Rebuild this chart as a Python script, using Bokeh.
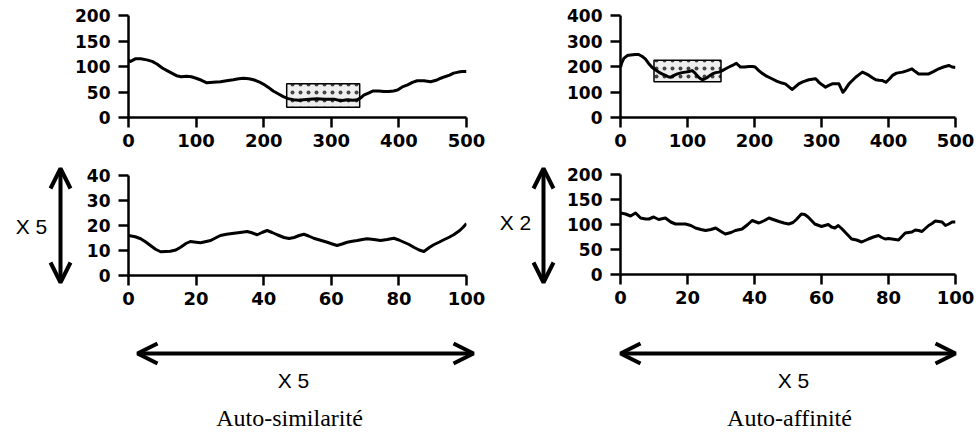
from bokeh.plotting import figure
from bokeh.layouts import row, column
from bokeh.models import Range1d, FixedTicker, Arrow, OpenHead, Label
from bokeh.embed import file_html
from bokeh.resources import INLINE

# ---------------- data ----------------
tl_x = [0, 3, 10, 18, 27, 35, 42, 50, 57, 64, 71, 78, 86, 93, 100, 108, 116, 125, 136, 145,
        155, 163, 170, 178, 185, 193, 200, 207, 214, 222, 229, 236, 244, 252, 259, 268, 279,
        290, 304, 314, 323, 332, 339, 344, 348, 355, 362, 370, 378, 385, 392, 398, 405, 413,
        420, 427, 437, 447, 455, 462, 468, 475, 481, 488, 494, 500]
tl_y = [112, 110, 115, 115, 113, 110, 105, 97, 92, 87, 82, 80, 81, 80, 77, 73, 68, 69, 70, 72,
        74, 76, 77, 76, 74, 70, 65, 59, 52, 46, 41, 37, 35, 34, 35, 36, 37,
        36, 36, 33, 35, 34, 35, 39, 44, 48, 52, 52, 51, 51, 52, 54, 60, 64,
        69, 72, 72, 70, 73, 77, 80, 83, 87, 89, 90, 90]
tl_box = [234, 342, 20, 66]  # left, right, bottom, top

tr_x = [0, 2, 5, 10, 15, 22, 27, 32, 37, 42, 47, 52, 57, 62, 67, 71, 75, 80, 85, 92, 97, 102,
        107, 111, 114, 118, 122, 126, 129, 133, 137, 142, 147, 152, 157, 162, 167, 171, 173,
        176, 179, 185, 192, 197, 201, 206, 211, 218, 226, 233, 241, 246, 251, 256, 260, 266,
        272, 281, 286, 291, 294, 296, 301, 306, 311, 316, 321, 326, 329, 332, 336, 341, 346,
        351, 356, 361, 366, 371, 376, 381, 386, 391, 394, 396, 401, 406, 412, 421, 428, 435,
        440, 445, 452, 460, 467, 475, 482, 490, 495, 500]
tr_y = [197, 215, 232, 243, 245, 247, 247, 240, 230, 212, 197, 187, 178, 171, 165, 160, 158,
        165, 171, 176, 178, 180, 184, 175, 165, 155, 148, 152, 156, 164, 171, 176, 178, 184,
        191, 198, 204, 210, 213, 205, 198, 198, 200, 200, 198, 185, 174, 162, 152, 143, 135,
        132, 121, 110, 118, 132, 140, 148, 150, 152, 145, 138, 128, 119, 126, 132, 132, 132,
        115, 99, 112, 132, 145, 158, 168, 178, 172, 165, 156, 148, 146, 145, 141, 138, 150,
        165, 174, 178, 184, 191, 180, 171, 171, 171, 180, 191, 198, 204, 198, 196]
tr_box = [50, 150, 140, 225]

bl_x = [0, 2, 3.6, 5, 6.5, 8, 9.5, 11, 12.4, 14, 15.4, 17, 18.3, 20, 21.3, 23, 24.3, 26, 27.2,
        29, 31.2, 33, 35.1, 36.5, 38.1, 39.5, 41, 42.5, 44, 46, 47.5, 49, 50.5, 51.9, 53.3,
        54.8, 56.8, 58.8, 60.3, 61.7, 63.2, 64.7, 66.2, 67.7, 69.2, 70.6, 72.6, 74.6, 76.5,
        78.5, 80, 81.5, 83, 84.4, 86, 87.4, 89, 90.3, 92, 93.3, 95, 96.2, 98, 99, 100]
bl_y = [16, 15.5, 14.7, 13.5, 12, 10.5, 9.5, 9.6, 9.7, 10.2, 11.3, 12.8, 13.6, 13.3, 13.1,
        13.6, 14, 15.2, 16, 16.5, 16.9, 17.2, 17.6, 17.1, 16.3, 17.2, 18, 17.2, 16.3, 15.2,
        14.8, 15.2, 16, 16.5, 15.8, 14.9, 14.1, 13.3, 12.6, 12, 12.6, 13.3, 13.7, 14, 14.4,
        14.7, 14.4, 14, 14.4, 14.9, 14.2, 13.3, 12.4, 11.3, 10.2, 9.6, 11.2, 12.3, 13.4, 14.3,
        15.4, 16.3, 18, 19.3, 20.8]

br_x = [0, 1.5, 3, 4.5, 6, 7.5, 8.5, 9.9, 11.4, 13.4, 15, 16.4, 18, 19.4, 21, 22.4, 24, 25.4,
        27, 28.4, 30, 31.3, 33, 34.3, 36.3, 38, 39.3, 41.3, 43, 44.3, 46, 47.3, 48.8, 50.2,
        51.5, 52.5, 54, 55, 56, 57, 58, 60, 62, 63, 64, 65, 66, 67, 68, 69, 70.5, 72, 73, 74,
        75.5, 77, 78, 79, 80, 81, 83, 84, 85, 86, 87, 88, 89, 90, 91, 92, 93, 94, 95, 96, 97,
        98, 99, 100]
br_y = [123, 121, 117, 123, 113, 111, 111, 115, 110, 113, 105, 101, 101, 101, 98, 93, 90, 88,
        90, 93, 86, 81, 84, 88, 91, 100, 108, 103, 108, 113, 109, 106, 103, 101, 104, 110, 121,
        120, 115, 108, 101, 96, 100, 95, 93, 98, 92, 85, 78, 71, 69, 65, 68, 71, 75, 78, 74,
        71, 72, 71, 69, 76, 83, 84, 85, 89, 88, 86, 92, 98, 102, 107, 106, 105, 98, 101, 105,
        105]

x_ticks_top = [0, 100, 200, 300, 400, 500]
x_ticks_bottom = [0, 20, 40, 60, 80, 100]
y_ticks_tl = [0, 50, 100, 150, 200]
y_ticks_tr = [0, 100, 200, 300, 400]
y_ticks_bl = [0, 10, 20, 30, 40]
y_ticks_br = [0, 50, 100, 150, 200]

caption_left = "Auto-similarité"
caption_right = "Auto-affinité"
scale_left = "X 5"
scale_right = "X 2"
scale_x = "X 5"


# ---------------- helpers ----------------
def plot_fig(width, height, xmax, ymax, xticks, yticks, bl, bt, fw, fh):
    p = figure(width=width, height=height,
               x_range=Range1d(0, xmax), y_range=Range1d(0, ymax),
               output_backend="svg", toolbar_location=None,
               min_border_left=bl, min_border_top=bt,
               min_border_right=width - bl - fw, min_border_bottom=height - bt - fh)
    p.frame_align = False
    p.xaxis.ticker = FixedTicker(ticks=xticks)
    p.yaxis.ticker = FixedTicker(ticks=yticks)
    p.grid.visible = False
    p.outline_line_color = None
    p.background_fill_color = "white"
    p.border_fill_color = "white"
    for ax in p.axis:
        ax.axis_line_width = 2.5
        ax.axis_line_color = "black"
        ax.major_tick_line_width = 2.5
        ax.major_tick_line_color = "black"
        ax.major_tick_out = 10
        ax.major_tick_in = 0
        ax.minor_tick_line_color = None
        ax.major_label_text_font = "DejaVu Sans"
        ax.major_label_text_font_style = "bold"
        ax.major_label_text_color = "black"
    p.xaxis.major_label_text_font_size = "18px"
    p.yaxis.major_label_text_font_size = "17px"
    p.xaxis.major_label_standoff = 6
    p.yaxis.major_label_standoff = 8
    return p


def canvas(width, height, x0, y0):
    # blank drawing area whose frame spans the whole figure, in page pixels
    p = figure(width=width, height=height,
               x_range=Range1d(x0, x0 + width),
               y_range=Range1d(y0 + height, y0),
               x_axis_type=None, y_axis_type=None,
               output_backend="svg", toolbar_location=None, min_border=0)
    p.frame_align = False
    p.grid.visible = False
    p.outline_line_color = None
    p.background_fill_color = "white"
    p.border_fill_color = "white"
    return p


def add_box(p, box):
    p.quad(left=[box[0]], right=[box[1]], bottom=[box[2]], top=[box[3]],
           fill_color="#eeeeee", line_color="black", line_width=1.5,
           hatch_pattern=".", hatch_color="#444444", hatch_scale=8, hatch_weight=1.5)


def add_arrow(p, x0, y0, x1, y1):
    p.add_layout(Arrow(x_start=x0, y_start=y0, x_end=x1, y_end=y1,
                       line_width=4, line_color="black",
                       start=OpenHead(size=20, line_width=4, line_color="black"),
                       end=OpenHead(size=20, line_width=4, line_color="black")))


def add_text(p, x, y, txt, font, size):
    p.add_layout(Label(x=x, y=y, text=txt, text_align="center", text_baseline="middle",
                       text_font=font, text_font_size=size, text_color="black"))


# ---------------- top row (page y 0..158) ----------------
tl = plot_fig(492, 158, 500, 200, x_ticks_top, y_ticks_tl, 128, 15, 338, 102)
add_box(tl, tl_box)
tl.line(tl_x, tl_y, line_width=3, line_color="black", line_join="round")

tr = plot_fig(484, 158, 500, 400, x_ticks_top, y_ticks_tr, 128, 15, 335, 102)
add_box(tr, tr_box)
tr.line(tr_x, tr_y, line_width=3, line_color="black", line_join="round")

# ---------------- middle row (page y 158..330) ----------------
al = canvas(80, 172, 0, 158)
add_arrow(al, 60, 168, 60, 282)
add_text(al, 31, 226, scale_left, "Liberation Sans", "21px")

bl = plot_fig(412, 172, 100, 40, x_ticks_bottom, y_ticks_bl, 48, 17, 338, 100)
bl.line(bl_x, bl_y, line_width=3, line_color="black", line_join="round")

ar = canvas(66, 172, 492, 158)
add_arrow(ar, 543, 168, 543, 282)
add_text(ar, 515, 222, scale_right, "Liberation Sans", "21px")

br = plot_fig(418, 172, 100, 200, x_ticks_bottom, y_ticks_br, 62, 16, 335, 100)
br.line(br_x, br_y, line_width=3, line_color="black", line_join="round")

# ---------------- bottom row (page y 330..434) ----------------
bt = canvas(976, 104, 0, 330)
add_arrow(bt, 137, 353, 473, 353)
add_arrow(bt, 620, 353, 955, 353)
add_text(bt, 293, 380, scale_x, "Liberation Sans", "21px")
add_text(bt, 793, 380, scale_x, "Liberation Sans", "21px")
add_text(bt, 289, 417, caption_left, "Liberation Serif", "24px")
add_text(bt, 789, 417, caption_right, "Liberation Serif", "24px")

layout = column(row(tl, tr), row(al, bl, ar, br), bt)

open("out.html", "w").write(file_html(layout, INLINE))
